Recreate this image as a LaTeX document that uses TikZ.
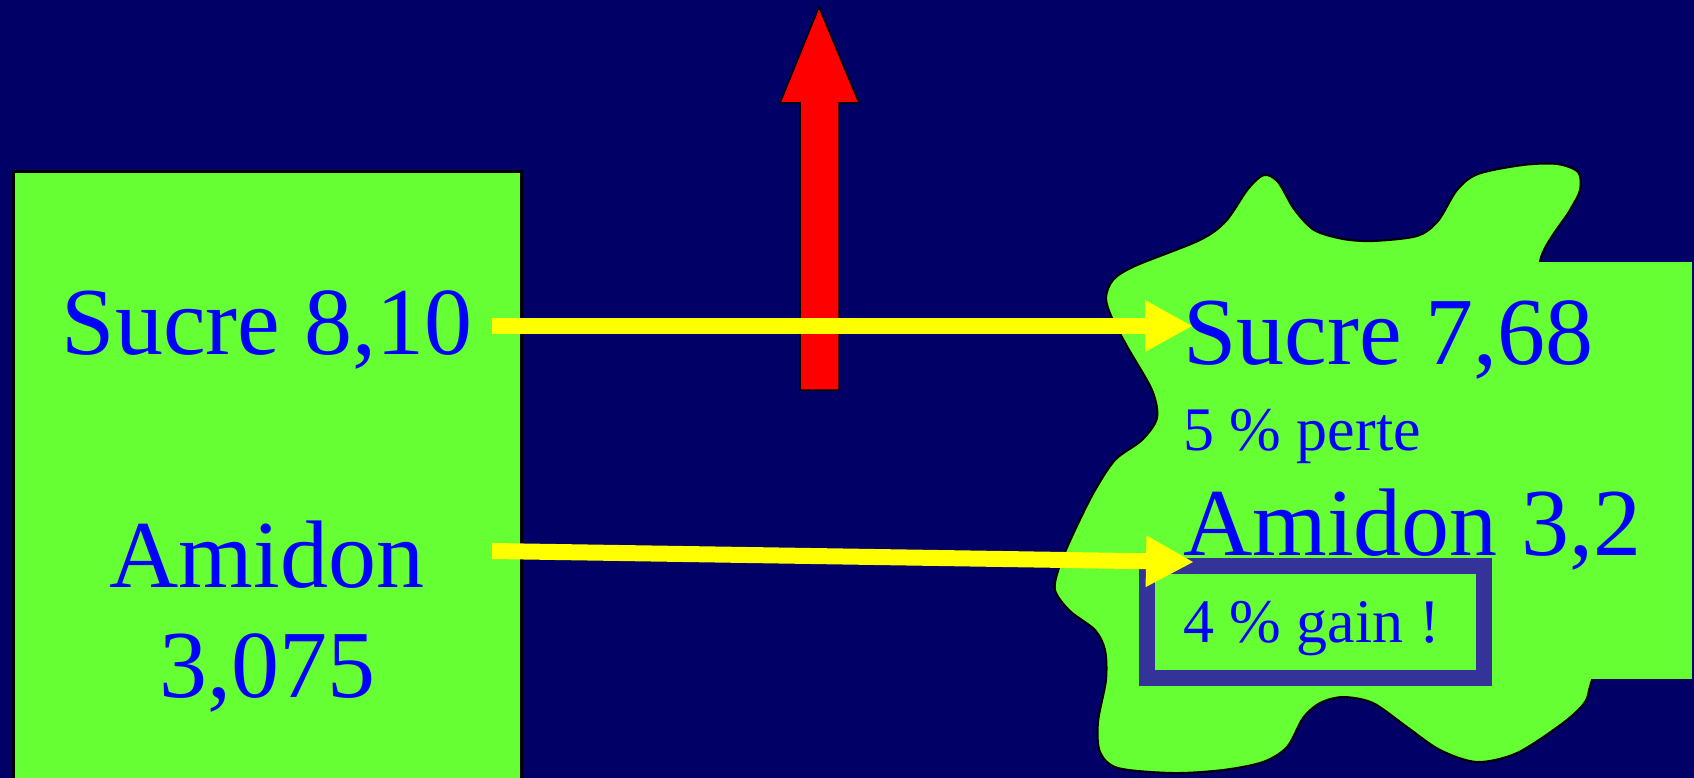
\documentclass[tikz,border=0pt]{standalone}
\usepackage{fontspec}
\setmainfont{Liberation Serif}
\usetikzlibrary{arrows.meta}
\definecolor{bgnavy}{RGB}{0,0,102}
\definecolor{leaf}{RGB}{102,255,51}
\definecolor{txtblue}{RGB}{0,0,255}
\definecolor{boxblue}{RGB}{51,51,153}
\definecolor{arrowyellow}{RGB}{255,255,0}
\tikzset{
  bigtext/.style={text=txtblue, inner sep=0pt, font=\fontsize{96}{100}\selectfont},
  smalltext/.style={text=txtblue, inner sep=0pt, font=\fontsize{62}{66}\selectfont},
  flowarrow/.style={draw=arrowyellow, line width=16pt, -{Triangle[length=48pt,width=48pt]}},
  greenshape/.style={fill=leaf, draw=black},
}
\begin{document}
\begin{tikzpicture}[x=1pt,y=-1pt]
\useasboundingbox (0,0) rectangle (1694,778);
\clip (0,0) rectangle (1694,778);
\fill[bgnavy] (0,0) rectangle (1694,778);
% left box
\draw[greenshape, line width=3pt] (13,172) rectangle (521,820);
% blob
\draw[greenshape, line width=2pt] plot[smooth cycle, tension=0.5] coordinates {
 (1106,298) (1113,280) (1135,266) (1200,240) (1226,221) (1248,189) (1264,175)
 (1278,182) (1294,209) (1314,230) (1343,239) (1373,241) (1417,236) (1438,221)
 (1457,190) (1478,174) (1523,165) (1557,164) (1578,172) (1580,190) (1570,210)
 (1540,262) (1560,320) (1620,420) (1620,600) (1592,680)
 (1585,702) (1563,723) (1517,753) (1477,762) (1440,750) (1407,727) (1373,703)
 (1343,697) (1320,703) (1303,718) (1287,747) (1263,762) (1223,770) (1173,773)
 (1118,768) (1100,752) (1098,722) (1106,680) (1105,650) (1095,630)
 (1070,611) (1055,590) (1060,565) (1075,530) (1094,492) (1115,460) (1142,440)
 (1157,418) (1152,390) (1128,348) (1112,318)};
% text panel on the right
\fill[leaf] (1480,262) rectangle (1692,679);
% red arrow
\draw[fill=red, draw=black, line width=1.5pt, line join=miter]
  (819,7) -- (859,103) -- (839,103) -- (839,390) -- (800,390) -- (800,103) -- (780,103) -- cycle;
% left texts
\node[bigtext, anchor=base] (sucreA) at (267,354) {Sucre 8,10};
\node[bigtext, anchor=base] (amidonA) at (267,587) {Amidon};
\node[bigtext, anchor=base] (amidonAv) at (267,697) {3,075};
% right texts
\node[bigtext, anchor=base west] (sucreB) at (1183,364) {Sucre 7,68};
\node[smalltext, anchor=base west] (perte) at (1183,450) {5 \% perte};
\node[bigtext, anchor=base west] (amidonB) at (1183,555) {Amidon 3,2};
\node[draw=boxblue, line width=16pt, inner sep=0pt, minimum width=337pt, minimum height=112pt] (gainbox) at (1315.5,622) {};
\node[smalltext, anchor=base west] (gain) at (1183,642) {4 \% gain !};
% yellow arrows
\coordinate (s1) at (492,326);
\coordinate (e1) at (1193,326);
\coordinate (s2) at (492,551);
\coordinate (e2) at (1194,562);
\draw[flowarrow] (s1) -- (e1);
\draw[flowarrow] (s2) -- (e2);
\end{tikzpicture}
\end{document}
